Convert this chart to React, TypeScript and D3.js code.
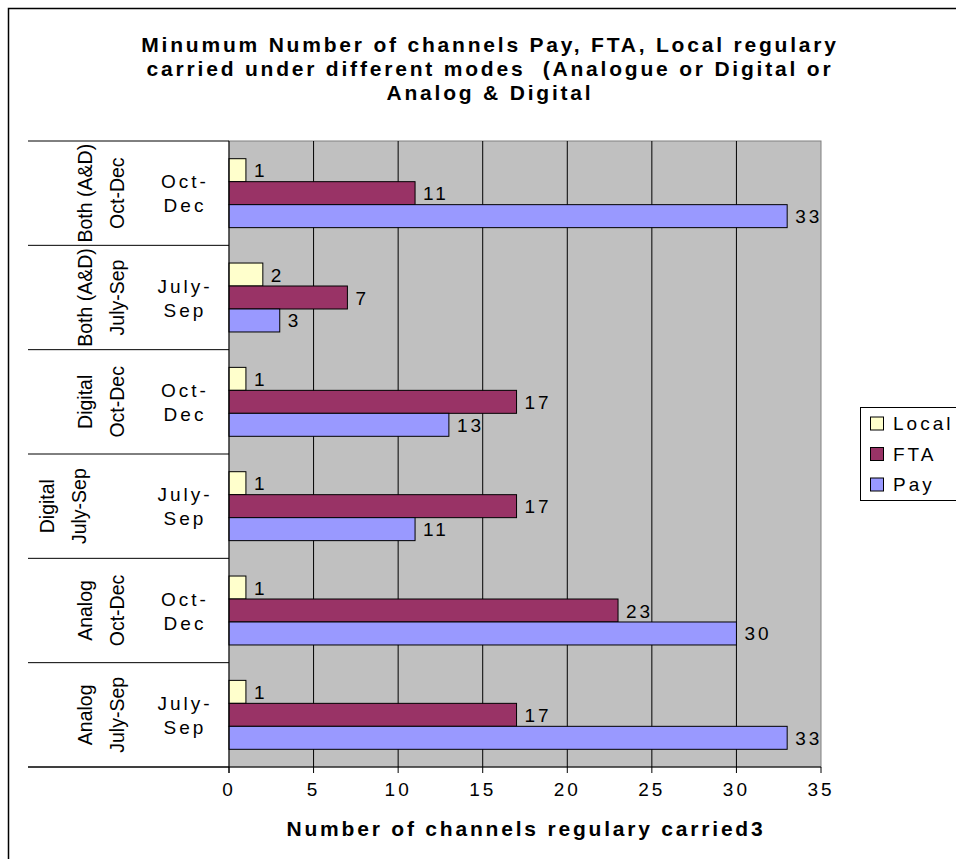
import React from "react";
import * as d3 from "d3";

const categories = [
  "Both (A&D) Oct-Dec",
  "Both (A&D) July-Sep",
  "Digital Oct-Dec",
  "Digital July-Sep",
  "Analog Oct-Dec",
  "Analog July-Sep",
];
const outerLabels = [
  ["Both (A&D)", "Oct-Dec"],
  ["Both (A&D)", "July-Sep"],
  ["Digital", "Oct-Dec"],
  ["Digital", "July-Sep"],
  ["Analog", "Oct-Dec"],
  ["Analog", "July-Sep"],
];
const innerLabels = [
  ["Oct-", "Dec"],
  ["July-", "Sep"],
  ["Oct-", "Dec"],
  ["July-", "Sep"],
  ["Oct-", "Dec"],
  ["July-", "Sep"],
];
const seriesNames = ["Local", "FTA", "Pay"];
const localValues = [1, 2, 1, 1, 1, 1];
const ftaValues = [11, 7, 17, 17, 23, 17];
const payValues = [33, 3, 13, 11, 30, 33];
const xTicks = [0, 5, 10, 15, 20, 25, 30, 35];
const titleLines = [
  "Minumum Number of channels Pay, FTA, Local regulary",
  "carried under different modes  (Analogue or Digital or",
  "Analog & Digital",
];
const xAxisTitle = "Number of channels regulary carried3";

const colors: Record<string, string> = {
  Local: "#FFFFCC",
  FTA: "#993366",
  Pay: "#9999FF",
};

const FONT = "'Liberation Sans', Arial, sans-serif";

export default function App() {
  const W = 956;
  const H = 859;
  const left = 229;
  const right = 821;
  const top = 141;
  const bottom = 767;

  const x = d3.scaleLinear().domain([0, 35]).range([left, right]);
  const y = d3.scaleBand<string>().domain(categories).range([top, bottom]).padding(0);
  const sub = d3
    .scaleBand<string>()
    .domain(seriesNames)
    .range([0, y.bandwidth()])
    .paddingInner(0)
    .paddingOuter(0.77);

  const valuesBySeries: Record<string, number[]> = {
    Local: localValues,
    FTA: ftaValues,
    Pay: payValues,
  };

  const labelX = (cat: string) => (cat === "Digital July-Sep" ? -38 : 0);

  return (
    <svg
      width={W}
      height={H}
      style={{ position: "absolute", left: 0, top: 0, background: "#fff" }}
      fontFamily={FONT}
    >
      {/* outer border */}
      <rect x={8.5} y={8.5} width={W + 20} height={H + 20} fill="none" stroke="#000" strokeWidth={1.5} />

      {/* title */}
      {titleLines.map((t, i) => (
        <text
          key={i}
          x={490}
          y={52 + i * 24}
          textAnchor="middle"
          fontSize={21}
          fontWeight="bold"
          letterSpacing={2.8}
          style={{ whiteSpace: "pre" }}
        >
          {t}
        </text>
      ))}

      {/* plot area */}
      <rect x={left} y={top} width={right - left} height={bottom - top} fill="#C0C0C0" stroke="#808080" strokeWidth={1} />

      {/* gridlines */}
      {xTicks
        .filter((t) => t > 0 && t < 35)
        .map((t) => (
          <line key={t} x1={x(t)} x2={x(t)} y1={top} y2={bottom} stroke="#000" strokeWidth={1} />
        ))}

      {/* bars */}
      {categories.map((cat, ci) =>
        seriesNames.map((s) => {
          const v = valuesBySeries[s][ci];
          const by = (y(cat) as number) + (sub(s) as number);
          const bh = sub.bandwidth();
          return (
            <g key={cat + s}>
              <rect
                x={x(0)}
                y={by}
                width={x(v) - x(0)}
                height={bh}
                fill={colors[s]}
                stroke="#000"
                strokeWidth={1}
              />
              <text x={x(v) + 8} y={by + bh / 2 + 7} fontSize={19} letterSpacing={3}>
                {v}
              </text>
            </g>
          );
        })
      )}

      {/* category separators in label area */}
      {[...categories.map((c) => y(c) as number), bottom].map((yy, i) => (
        <line key={i} x1={28} x2={left} y1={yy} y2={yy} stroke="#000" strokeWidth={1} />
      ))}

      {/* axes lines */}
      <line x1={left} x2={left} y1={top} y2={bottom + 6} stroke="#000" strokeWidth={1} />
      <line x1={28} x2={right} y1={bottom} y2={bottom} stroke="#000" strokeWidth={1} />

      {/* x ticks */}
      {xTicks.map((t) => (
        <g key={t}>
          <line x1={x(t)} x2={x(t)} y1={bottom} y2={bottom + 6} stroke="#000" />
          <text x={x(t)} y={796} textAnchor="middle" fontSize={19} letterSpacing={3}>
            {t}
          </text>
        </g>
      ))}

      {/* x axis title */}
      <text x={526} y={836} textAnchor="middle" fontSize={21} fontWeight="bold" letterSpacing={2.8}>
        {xAxisTitle}
      </text>

      {/* inner category labels */}
      {categories.map((cat, ci) => {
        const cy = (y(cat) as number) + y.bandwidth() / 2;
        return (
          <g key={"in" + cat}>
            <text x={185} y={cy - 5} textAnchor="middle" fontSize={19} letterSpacing={3}>
              {innerLabels[ci][0]}
            </text>
            <text x={185} y={cy + 19} textAnchor="middle" fontSize={19} letterSpacing={3}>
              {innerLabels[ci][1]}
            </text>
          </g>
        );
      })}

      {/* outer rotated labels */}
      {categories.map((cat, ci) => {
        const cy = (y(cat) as number) + y.bandwidth() / 2;
        const dx = labelX(cat);
        return (
          <g key={"out" + cat}>
            {outerLabels[ci].map((l, li) => {
              const cx = 85 + dx + li * 32;
              return (
                <text
                  key={li}
                  transform={`translate(${cx + 7},${cy}) rotate(-90)`}
                  textAnchor="middle"
                  fontSize={19.5}
                >
                  {l}
                </text>
              );
            })}
          </g>
        );
      })}

      {/* legend */}
      <rect x={860.5} y={407.5} width={120} height={93} fill="#fff" stroke="#000" strokeWidth={1} />
      {seriesNames.map((s, i) => {
        const cy = 423 + i * 30.5;
        return (
          <g key={"lg" + s}>
            <rect x={870.5} y={cy - 6} width={13} height={13} fill={colors[s]} stroke="#000" strokeWidth={1} />
            <text x={893} y={cy + 7} fontSize={19} letterSpacing={3}>
              {s}
            </text>
          </g>
        );
      })}
    </svg>
  );
}
